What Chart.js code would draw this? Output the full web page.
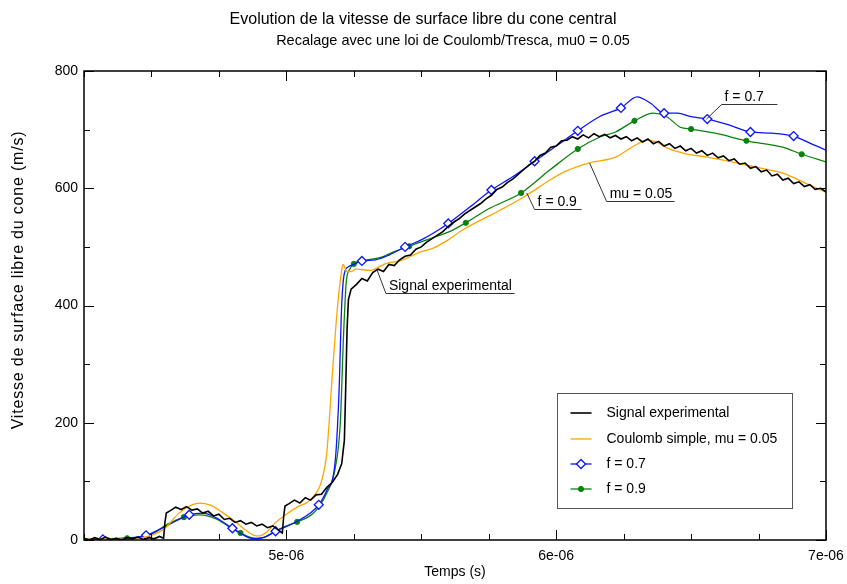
<!DOCTYPE html>
<html>
<head>
<meta charset="utf-8">
<script src="https://cdn.jsdelivr.net/npm/chart.js@4/dist/chart.umd.min.js"></script>
<style>
html, body { margin: 0; padding: 0; background: #fff; }
canvas { display: block; }
</style>
</head>
<body>
<canvas id="vitesse" width="847" height="584"></canvas>
<script>
// temps en microsecondes (axe gradue en e-06 s), vitesses en m/s
var expT = [4.25, 4.27, 4.29, 4.31, 4.33, 4.35, 4.37, 4.39, 4.41, 4.43, 4.45, 4.47, 4.49, 4.51, 4.53, 4.545,
    4.55, 4.555, 4.57, 4.59, 4.61, 4.63, 4.65, 4.67, 4.69, 4.71, 4.73, 4.75, 4.77, 4.79, 4.81, 4.83,
    4.85, 4.87, 4.89, 4.91, 4.93, 4.95, 4.97, 4.985, 4.99, 4.995, 5.01, 5.03, 5.05, 5.07, 5.09, 5.11,
    5.13, 5.15, 5.17, 5.19, 5.205, 5.215, 5.22, 5.225, 5.23, 5.24, 5.26, 5.28, 5.30, 5.32, 5.34, 5.36,
    5.38, 5.40, 5.42, 5.44, 5.46, 5.48, 5.50, 5.52, 5.54, 5.56, 5.58, 5.60, 5.62, 5.64, 5.66, 5.68,
    5.70, 5.72, 5.74, 5.76, 5.78, 5.80, 5.82, 5.84, 5.86, 5.88, 5.90, 5.92, 5.94, 5.96, 5.98, 6.00,
    6.02, 6.04, 6.06, 6.08, 6.10, 6.12, 6.14, 6.16, 6.18, 6.20, 6.22, 6.24, 6.26, 6.28, 6.30, 6.32,
    6.34, 6.36, 6.38, 6.40, 6.42, 6.44, 6.46, 6.48, 6.50, 6.52, 6.54, 6.56, 6.58, 6.60, 6.62, 6.64,
    6.66, 6.68, 6.70, 6.72, 6.74, 6.76, 6.78, 6.80, 6.82, 6.84, 6.86, 6.88, 6.90, 6.92, 6.94, 6.96,
    6.98, 7.00];
var expV = [3, 0, 4, 1, 5, 1, 3, 0, 4, 2, 5, 1, 4, 2, 6, 3,
    30, 46, 50, 56, 52, 57, 51, 53, 46, 49, 41, 44, 35, 37, 30, 33,
    27, 30, 24, 27, 21, 24, 17, 12, 40, 58, 62, 68, 63, 72, 68, 77,
    78, 90, 98, 112, 130, 170, 260, 360, 410, 428, 436, 446, 442, 456, 462, 458,
    470, 468, 478, 484, 486, 496, 500, 508, 514, 520, 526, 535, 542, 548, 556, 562,
    568, 574, 582, 588, 598, 602, 610, 616, 624, 632, 640, 646, 656, 660, 670, 672,
    681, 682, 688, 684, 691, 686, 693, 688, 692, 686, 690, 684, 688, 681, 686, 679,
    684, 676, 680, 672, 676, 668, 672, 664, 668, 660, 664, 656, 660, 652, 655, 647,
    650, 641, 643, 634, 637, 628, 631, 621, 624, 614, 617, 608, 611, 603, 606, 598,
    600, 594];

var coulombT = [4.25, 4.40, 4.45, 4.50, 4.55, 4.60, 4.65, 4.68, 4.72, 4.76, 4.80, 4.84, 4.88, 4.90,
    4.93, 4.96, 5.00, 5.04, 5.08, 5.11, 5.13, 5.15, 5.17, 5.19, 5.205, 5.21, 5.225, 5.24, 5.26,
    5.31, 5.37, 5.42, 5.50, 5.54, 5.60, 5.65, 5.79, 5.88, 5.98, 6.04, 6.12, 6.22, 6.28, 6.34,
    6.37, 6.41, 6.47, 6.56, 6.65, 6.75, 6.84, 6.90, 7.00];
var coulombV = [2, 2, 3, 8, 20, 45, 60, 63, 59, 48, 35, 20, 8, 7,
    15, 30, 44, 56, 65, 80, 100, 150, 280, 400, 460, 470, 458, 458, 462,
    460, 472, 476, 492, 497, 512, 528, 562, 585, 615, 630, 643, 653, 670, 682,
    679, 669, 660, 653, 645, 635, 626, 614, 593];

var f07T = [4.25, 4.32, 4.40, 4.48, 4.56, 4.64, 4.69, 4.74, 4.80, 4.86, 4.89, 4.92, 4.96, 5.04,
    5.12, 5.15, 5.18, 5.195, 5.205, 5.215, 5.23, 5.25, 5.28, 5.33, 5.38, 5.44, 5.50, 5.55, 5.60,
    5.68, 5.76, 5.84, 5.92, 6.00, 6.08, 6.16, 6.24, 6.30, 6.35, 6.40, 6.45, 6.50, 6.56, 6.64,
    6.72, 6.80, 6.88, 6.95, 7.00];
var f07V = [1, 1, 3, 8, 25, 43, 46, 38, 20, 4, 2, 5, 15, 32,
    60, 85, 130, 250, 400, 455, 466, 470, 476, 478, 486, 500, 512, 525, 540,
    568, 597, 620, 646, 672, 698, 722, 737, 756, 745, 728, 728, 722, 718, 708,
    696, 694, 689, 675, 665];
var f07Marks = [4.32, 4.48, 4.64, 4.80, 4.96, 5.12, 5.28, 5.44, 5.60, 5.76, 5.92, 6.08, 6.24,
    6.40, 6.56, 6.72, 6.88];

var f09T = [4.25, 4.41, 4.50, 4.56, 4.62, 4.68, 4.74, 4.79, 4.83, 4.88, 4.92, 4.98, 5.04, 5.09,
    5.12, 5.15, 5.18, 5.20, 5.212, 5.222, 5.235, 5.25, 5.30, 5.35, 5.40, 5.455, 5.52, 5.60,
    5.665, 5.75, 5.87, 5.976, 6.08, 6.16, 6.22, 6.29, 6.36, 6.41, 6.46, 6.50, 6.59, 6.705,
    6.84, 6.91, 7.00];
var f09V = [2, 3, 10, 27, 39, 43, 36, 22, 12, 3, 5, 20, 31, 42,
    56, 80, 120, 200, 350, 440, 462, 471, 478, 482, 492, 501, 512, 525,
    541, 565, 592, 631, 667, 687, 696, 715, 728, 722, 704, 701, 694, 681,
    670, 658, 645];
var f09Marks = [4.41, 4.62, 4.83, 5.04, 5.25, 5.455, 5.665, 5.87, 6.08, 6.29, 6.50, 6.705, 6.91];

// etiquettes posees sur les courbes : point de la courbe, coude, fin du trait
var notes = [
    {text: 'Signal experimental', at: [5.335, 462], elbow: [5.369, 421], end: 5.846},
    {text: 'mu = 0.05', at: [6.124, 643], elbow: [6.187, 578], end: 6.439},
    {text: 'f = 0.9', at: [5.891, 592], elbow: [5.92, 565], end: 6.094},
    {text: 'f = 0.7', at: [6.557, 718], elbow: [6.613, 744], end: 6.82}
];

const FONT = "'Liberation Sans', Arial, Helvetica, sans-serif";

function pairs(ts, vs) {
    return ts.map((t, i) => ({x: t, y: vs[i]}));
}

function markRadius(marks, r) {
    return function (ctx) {
        const p = ctx.raw;
        return p && marks.indexOf(p.x) >= 0 ? r : 0;
    };
}

const decor = {
    id: 'decor',
    afterDraw(chart) {
        const ctx = chart.ctx;
        const a = chart.chartArea;
        const xs = chart.scales.x;
        const ys = chart.scales.y;
        ctx.save();

        // titres
        ctx.fillStyle = '#000';
        ctx.textAlign = 'center';
        ctx.textBaseline = 'alphabetic';
        ctx.font = '16px ' + FONT;
        ctx.fillText('Evolution de la vitesse de surface libre du cone central', 423, 24);
        ctx.font = '14.5px ' + FONT;
        ctx.fillText('Recalage avec une loi de Coulomb/Tresca, mu0 = 0.05', 453, 45);

        // titre de l'axe vertical
        ctx.save();
        ctx.translate(19, 280);
        ctx.rotate(-Math.PI / 2);
        ctx.font = '16px ' + FONT;
        ctx.letterSpacing = '0.8px';
        ctx.textBaseline = 'middle';
        ctx.fillText('Vitesse de surface libre du cone (m/s)', 0, 0);
        ctx.restore();

        // cadre et graduations interieures
        ctx.strokeStyle = '#000';
        ctx.lineWidth = 1.5;
        ctx.strokeRect(a.left, a.top, a.right - a.left, a.bottom - a.top);
        ctx.lineWidth = 1;
        ctx.beginPath();
        xs.ticks.forEach(t => {
            const x = Math.round(xs.getPixelForValue(t.value)) + 0.5;
            const len = Math.abs(t.value - Math.round(t.value)) < 1e-6 ? 10 : 6;
            ctx.moveTo(x, a.bottom); ctx.lineTo(x, a.bottom - len);
            ctx.moveTo(x, a.top); ctx.lineTo(x, a.top + len);
        });
        ys.ticks.forEach(t => {
            const y = Math.round(ys.getPixelForValue(t.value)) + 0.5;
            const len = t.value % 200 === 0 ? 10 : 6;
            ctx.moveTo(a.left, y); ctx.lineTo(a.left + len, y);
            ctx.moveTo(a.right, y); ctx.lineTo(a.right - len, y);
        });
        ctx.stroke();

        // etiquettes avec trait de rappel
        ctx.font = '14px ' + FONT;
        ctx.textAlign = 'left';
        ctx.strokeStyle = '#333';
        notes.forEach(n => {
            const x0 = xs.getPixelForValue(n.at[0]), y0 = ys.getPixelForValue(n.at[1]);
            const x1 = xs.getPixelForValue(n.elbow[0]), y1 = Math.round(ys.getPixelForValue(n.elbow[1])) + 0.5;
            const x2 = xs.getPixelForValue(n.end);
            ctx.beginPath();
            ctx.moveTo(x0, y0); ctx.lineTo(x1, y1); ctx.lineTo(x2, y1);
            ctx.stroke();
            ctx.fillText(n.text, x1 + 3, y1 - 4);
        });

        // legende
        const lx = 557.5, ly = 393.5, lw = 235, lh = 115;
        ctx.fillStyle = '#fff';
        ctx.fillRect(lx, ly, lw, lh);
        ctx.strokeStyle = '#555';
        ctx.strokeRect(lx, ly, lw, lh);
        const rows = [413, 439, 464, 489];
        chart.data.datasets.forEach((ds, i) => {
            const y = rows[i];
            ctx.strokeStyle = ds.borderColor;
            ctx.lineWidth = ds.borderWidth;
            ctx.beginPath();
            ctx.moveTo(lx + 13, y); ctx.lineTo(lx + 34, y);
            ctx.stroke();
            if (ds.legendMark) {
                const r = ds.legendMark, cx = lx + 23.5;
                ctx.fillStyle = ds.pointBackgroundColor;
                ctx.strokeStyle = ds.pointBorderColor;
                ctx.lineWidth = ds.pointBorderWidth;
                ctx.beginPath();
                if (ds.pointStyle === 'rectRot') {
                    ctx.moveTo(cx, y - r); ctx.lineTo(cx + r, y);
                    ctx.lineTo(cx, y + r); ctx.lineTo(cx - r, y);
                    ctx.closePath();
                } else {
                    ctx.arc(cx, y, r, 0, Math.PI * 2);
                }
                ctx.fill();
                ctx.stroke();
            }
            ctx.fillStyle = '#000';
            ctx.textBaseline = 'middle';
            ctx.fillText(ds.label, lx + 49, y);
        });
        ctx.restore();
    }
};

const config = {
    type: 'line',
    data: {
        datasets: [
            {
                label: 'Signal experimental',
                data: pairs(expT, expV),
                borderColor: '#000',
                borderWidth: 1.6,
                pointRadius: 0,
                tension: 0
            },
            {
                label: 'Coulomb simple, mu = 0.05',
                data: pairs(coulombT, coulombV),
                borderColor: '#ffa500',
                borderWidth: 1.3,
                pointRadius: 0,
                cubicInterpolationMode: 'monotone'
            },
            {
                label: 'f = 0.7',
                data: pairs(f07T, f07V),
                borderColor: '#0a14ff',
                borderWidth: 1.3,
                pointStyle: 'rectRot',
                pointRadius: markRadius(f07Marks, 4.5),
                pointBackgroundColor: '#fff',
                pointBorderColor: '#0a14ff',
                pointBorderWidth: 1.3,
                legendMark: 4.5,
                cubicInterpolationMode: 'monotone'
            },
            {
                label: 'f = 0.9',
                data: pairs(f09T, f09V),
                borderColor: '#0a820a',
                borderWidth: 1.3,
                pointStyle: 'circle',
                pointRadius: markRadius(f09Marks, 2.6),
                pointBackgroundColor: '#0a820a',
                pointBorderColor: '#0a820a',
                pointBorderWidth: 1,
                legendMark: 2.6,
                cubicInterpolationMode: 'monotone'
            }
        ]
    },
    options: {
        responsive: false,
        devicePixelRatio: 1,
        animation: false,
        layout: {
            padding: {left: 0, right: 21, top: 71, bottom: 0}
        },
        scales: {
            x: {
                type: 'linear',
                min: 4.25,
                max: 7,
                afterFit: function (scale) {
                    scale.height = 44;
                    scale.paddingLeft = 0;
                    scale.paddingRight = 0;
                },
                grid: {display: false, drawTicks: false},
                border: {display: false},
                ticks: {
                    stepSize: 0.25,
                    padding: 8,
                    maxRotation: 0,
                    autoSkip: false,
                    color: '#000',
                    font: {family: FONT, size: 14},
                    callback: function (v) {
                        return Math.abs(v - Math.round(v)) < 1e-6 ? Math.round(v) + 'e-06' : '';
                    }
                },
                title: {
                    display: true,
                    text: 'Temps (s)',
                    color: '#000',
                    font: {family: FONT, size: 14},
                    padding: {top: 0, bottom: 3}
                }
            },
            y: {
                min: 0,
                max: 800,
                afterFit: function (scale) {
                    scale.width = 84;
                    scale.paddingTop = 0;
                    scale.paddingBottom = 0;
                },
                grid: {display: false, drawTicks: false},
                border: {display: false},
                ticks: {
                    stepSize: 100,
                    padding: 6,
                    autoSkip: false,
                    color: '#000',
                    font: {family: FONT, size: 14},
                    callback: function (v) {
                        return v % 200 === 0 ? String(v) : '';
                    }
                },
                title: {display: false}
            }
        },
        plugins: {
            legend: {display: false},
            title: {display: false},
            tooltip: {enabled: false}
        }
    },
    plugins: [decor]
};

const graphic = new Chart(document.getElementById('vitesse'), config);
</script>
</body>
</html>
